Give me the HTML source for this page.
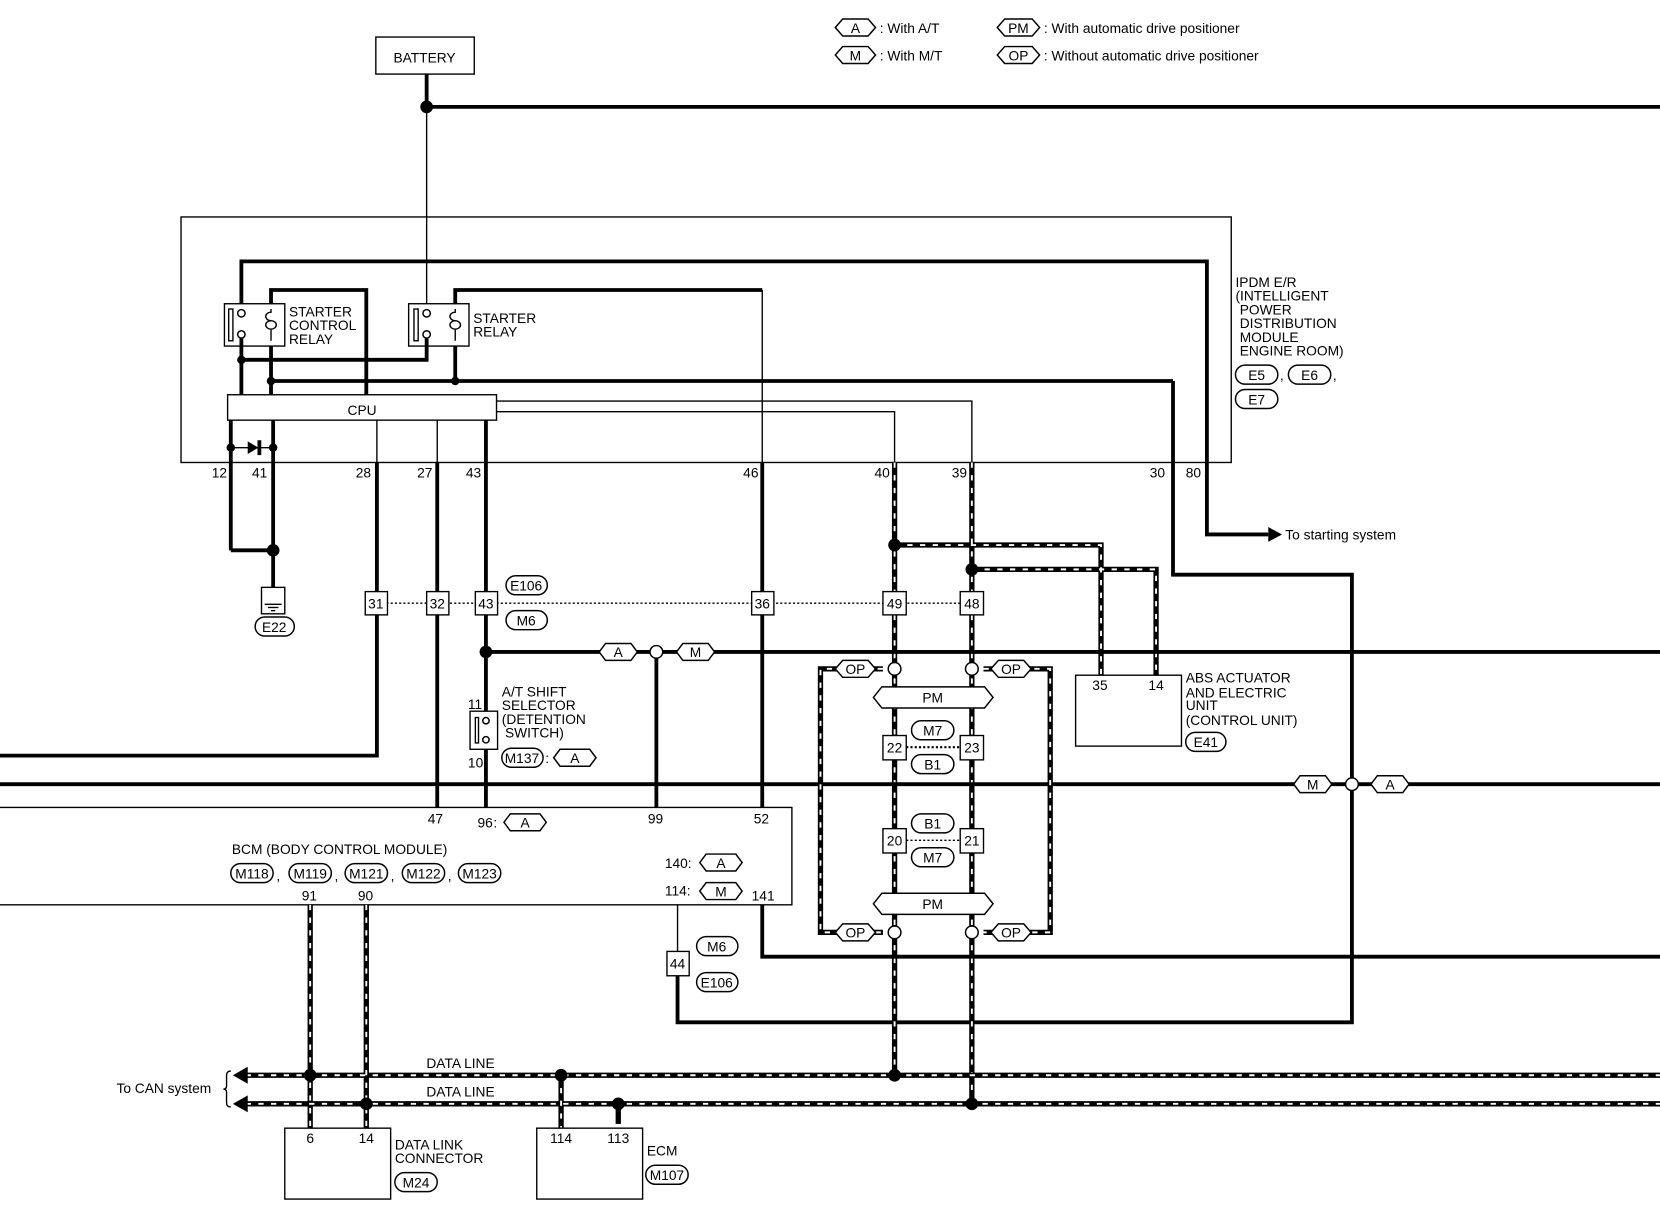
<!DOCTYPE html>
<html><head><meta charset="utf-8"><style>
html,body{margin:0;padding:0;background:#fff;}
svg{display:block;}
text{font-family:"Liberation Sans",sans-serif;font-size:13px;fill:#000;}
.t{stroke:#000;stroke-width:1.3;fill:none;}
.k{stroke:#000;stroke-width:3.6;fill:none;}
.d{stroke:#000;stroke-width:5;fill:none;}
.w{stroke:#fff;stroke-width:1.8;fill:none;stroke-dasharray:5 7;}
.dot{stroke:#000;stroke-width:1.3;fill:none;stroke-dasharray:2 2;}
.box{stroke:#000;stroke-width:1.3;fill:#fff;}
.ov{stroke:#000;stroke-width:1.4;fill:#fff;}
</style></head><body>
<svg width="1660" height="1216" viewBox="0 0 1568 1149" preserveAspectRatio="none" xmlns="http://www.w3.org/2000/svg">
<!-- Legend -->
<polygon class="ov" points="789,26 796,18 820,18 827,26 820,34 796,34"/><text x="808" y="31" text-anchor="middle">A</text>
<text x="831" y="31">: With A/T</text>
<polygon class="ov" points="789,52 796,44 820,44 827,52 820,60 796,60"/><text x="808" y="57" text-anchor="middle">M</text>
<text x="831" y="57">: With M/T</text>
<polygon class="ov" points="942,26 949,18 975,18 982,26 975,34 949,34"/><text x="962" y="31" text-anchor="middle">PM</text>
<text x="986" y="31">: With automatic drive positioner</text>
<polygon class="ov" points="942,52 949,44 975,44 982,52 975,60 949,60"/><text x="962" y="57" text-anchor="middle">OP</text>
<text x="986" y="57">: Without automatic drive positioner</text>

<!-- Battery -->
<rect class="box" x="355" y="35" width="93" height="35"/><text x="401" y="59" text-anchor="middle">BATTERY</text>
<line class="k" x1="403" y1="70" x2="403" y2="101"/>
<line class="k" x1="403" y1="101" x2="1568" y2="101"/>
<circle cx="403" cy="101" r="6"/>
<line class="t" x1="403" y1="101" x2="403" y2="296"/>

<!-- IPDM box -->
<rect class="t" x="171" y="205" width="992" height="232"/>
<polyline class="k" points="228,296 228,247 1140,247 1140,505 1198,505"/>
<polygon points="1198,498 1211,505 1198,512"/>
<text x="1214" y="510">To starting system</text>

<!-- starter control relay -->
<rect class="box" x="212" y="287" width="57" height="40"/>
<rect class="t" x="216" y="292" width="4" height="30"/>
<circle class="ov" cx="228" cy="296" r="3.5"/><circle class="ov" cx="228" cy="316" r="3.5"/>
<path class="t" d="M256,292 v3 a5,4 0 1 0 0,8 a5,4 0 1 0 0,8 v11 M256,303 a5,4 0 1 1 0,8"/>
<text x="273" y="299">STARTER</text><text x="273" y="312">CONTROL</text><text x="273" y="325">RELAY</text>
<polyline class="k" points="256,287 256,274 346,274 346,373"/>
<line class="k" x1="228" y1="320" x2="228" y2="373"/>
<line class="k" x1="256" y1="327" x2="256" y2="373"/>
<!-- starter relay -->
<rect class="box" x="386" y="287" width="57" height="40"/>
<rect class="t" x="391" y="292" width="4" height="30"/>
<circle class="ov" cx="403" cy="296" r="3.5"/><circle class="ov" cx="403" cy="316" r="3.5"/>
<path class="t" d="M430,292 v3 a5,4 0 1 0 0,8 a5,4 0 1 0 0,8 v11 M430,303 a5,4 0 1 1 0,8"/>
<text x="447" y="305">STARTER</text><text x="447" y="318">RELAY</text>
<polyline class="k" points="430,287 430,274 720,274"/>
<line class="t" x1="720" y1="274" x2="720" y2="437"/>
<polyline class="k" points="228,340 403,340 403,320"/>
<circle cx="228" cy="340" r="4"/>
<line class="k" x1="430" y1="327" x2="430" y2="360"/>
<line class="k" x1="256" y1="360" x2="1108" y2="360"/>
<circle cx="256" cy="360" r="4"/><circle cx="430" cy="360" r="4"/>
<polyline class="k" points="1108,360 1108,543 1277,543 1277,966 640,966 640,922"/>
<line class="t" x1="640" y1="855" x2="640" y2="899"/>

<!-- CPU -->
<rect class="box" x="215" y="373" width="254" height="24"/><text x="342" y="392" text-anchor="middle">CPU</text>
<polyline class="t" points="469,379 918,379 918,437"/>
<polyline class="t" points="469,389 845,389 845,437"/>
<line class="k" x1="218" y1="397" x2="218" y2="520"/>
<line class="k" x1="258" y1="397" x2="258" y2="555"/>
<line class="t" x1="218" y1="423" x2="258" y2="423"/>
<polygon points="234,417 234,429 244,423"/><line class="k" x1="245" y1="416" x2="245" y2="430"/>
<circle cx="218" cy="423" r="4"/><circle cx="258" cy="423" r="4"/>
<line class="t" x1="356" y1="397" x2="356" y2="437"/>
<line class="t" x1="413" y1="397" x2="413" y2="437"/>
<line class="k" x1="459" y1="397" x2="459" y2="437"/>
<line class="k" x1="218" y1="520" x2="258" y2="520"/>
<circle cx="258" cy="520" r="6"/>
<!-- pin labels -->
<text x="200" y="451">12</text><text x="238" y="451">41</text><text x="336" y="451">28</text>
<text x="394" y="451">27</text><text x="440" y="451">43</text><text x="702" y="451">46</text>
<text x="826" y="451">40</text><text x="899" y="451">39</text><text x="1086" y="451">30</text><text x="1120" y="451">80</text>
<!-- IPDM labels -->
<text x="1167" y="271">IPDM E/R</text><text x="1167" y="284">(INTELLIGENT</text><text x="1171" y="297">POWER</text>
<text x="1171" y="310">DISTRIBUTION</text><text x="1171" y="323">MODULE</text><text x="1171" y="336">ENGINE ROOM)</text>
<rect class="ov" x="1167" y="345" width="40" height="18" rx="9"/><text x="1187" y="359" text-anchor="middle">E5</text>
<text x="1209" y="359">,</text>
<rect class="ov" x="1217" y="345" width="40" height="18" rx="9"/><text x="1237" y="359" text-anchor="middle">E6</text>
<text x="1259" y="359">,</text>
<rect class="ov" x="1167" y="368" width="40" height="18" rx="9"/><text x="1187" y="382" text-anchor="middle">E7</text>

<!-- ground -->
<rect class="t" x="247" y="555" width="22" height="25"/>
<line class="t" x1="250" y1="571" x2="266" y2="571"/><line class="t" x1="253" y1="574" x2="263" y2="574"/><line class="t" x1="256" y1="577" x2="260" y2="577"/>
<rect class="ov" x="241" y="583" width="37" height="18" rx="9"/><text x="259" y="597" text-anchor="middle">E22</text>

<!-- verticals -->
<polyline class="k" points="356,437 356,714 0,714"/>
<line class="k" x1="413" y1="437" x2="413" y2="763"/>
<line class="k" x1="459" y1="437" x2="459" y2="763"/>
<line class="k" x1="720" y1="437" x2="720" y2="763"/>
<line class="k" x1="620" y1="616" x2="620" y2="763"/>

<!-- dashed data verticals 40/39 -->
<g>
<path class="d" d="M845,437 V1016 M918,437 V1043 M845,515 H1040 V640 M918,538 H1092 V640"/>
<path class="w" d="M845,437 V1016 M918,437 V1043 M845,515 H1040 V640 M918,538 H1092 V640"/>
</g>
<circle cx="845" cy="515" r="6"/><circle cx="918" cy="538" r="6"/>

<!-- connectors row -->
<line class="dot" x1="365" y1="570" x2="908" y2="570"/>
<rect class="box" x="345" y="559" width="21" height="22"/><text x="355" y="575" text-anchor="middle">31</text>
<rect class="box" x="403" y="559" width="21" height="22"/><text x="413" y="575" text-anchor="middle">32</text>
<rect class="box" x="449" y="559" width="21" height="22"/><text x="459" y="575" text-anchor="middle">43</text>
<rect class="box" x="710" y="559" width="21" height="22"/><text x="720" y="575" text-anchor="middle">36</text>
<rect class="box" x="834" y="559" width="22" height="22"/><text x="845" y="575" text-anchor="middle">49</text>
<rect class="box" x="907" y="559" width="22" height="22"/><text x="918" y="575" text-anchor="middle">48</text>
<rect class="ov" x="478" y="544" width="39" height="18" rx="9"/><text x="497" y="558" text-anchor="middle">E106</text>
<rect class="ov" x="478" y="577" width="39" height="18" rx="9"/><text x="497" y="591" text-anchor="middle">M6</text>

<!-- y=616 line -->
<line class="k" x1="459" y1="616" x2="1568" y2="616"/>
<circle cx="459" cy="616" r="6"/>
<polygon class="ov" points="566,616 572,608 596,608 602,616 596,624 572,624"/><text x="584" y="621" text-anchor="middle">A</text>
<circle class="ov" cx="620" cy="616" r="6"/>
<polygon class="ov" points="639,616 645,608 669,608 675,616 669,624 645,624"/><text x="657" y="621" text-anchor="middle">M</text>

<!-- A/T shift selector -->
<rect class="box" x="444" y="672" width="26" height="36"/>
<rect class="t" x="449" y="678" width="3" height="24"/>
<circle class="ov" cx="459" cy="681" r="3"/><circle class="ov" cx="459" cy="699" r="3"/>
<text x="442" y="670" font-size="12">11</text><text x="442" y="725" font-size="12">10</text>
<text x="474" y="658">A/T SHIFT</text><text x="474" y="671">SELECTOR</text><text x="474" y="684">(DETENTION</text><text x="477" y="697">SWITCH)</text>
<rect class="ov" x="474" y="707" width="39" height="18" rx="9"/><text x="493" y="721" text-anchor="middle">M137</text>
<text x="515" y="721">:</text>
<polygon class="ov" points="523,716 529,708 557,708 563,716 557,724 529,724"/><text x="543" y="721" text-anchor="middle">A</text>

<!-- y=741 line -->
<line class="k" x1="0" y1="741" x2="1568" y2="741"/>
<polygon class="ov" points="1222,741 1228,733 1252,733 1258,741 1252,749 1228,749"/><text x="1240" y="746" text-anchor="middle">M</text>
<circle class="ov" cx="1277" cy="741" r="6"/>
<polygon class="ov" points="1295,741 1301,733 1325,733 1331,741 1325,749 1301,749"/><text x="1313" y="746" text-anchor="middle">A</text>

<!-- OP loops -->
<path class="d" d="M834,632 H775 V881 H834 M929,632 H992 V881 H929"/>
<path class="w" d="M834,632 H775 V881 H834 M929,632 H992 V881 H929"/>
<polygon class="ov" points="789,632 796,624 820,624 827,632 820,640 796,640"/><text x="808" y="637" text-anchor="middle">OP</text>
<polygon class="ov" points="936,632 943,624 967,624 974,632 967,640 943,640"/><text x="955" y="637" text-anchor="middle">OP</text>
<polygon class="ov" points="789,881 796,873 820,873 827,881 820,889 796,889"/><text x="808" y="886" text-anchor="middle">OP</text>
<polygon class="ov" points="936,881 943,873 967,873 974,881 967,889 943,889"/><text x="955" y="886" text-anchor="middle">OP</text>
<circle class="ov" cx="845" cy="632" r="6"/><circle class="ov" cx="918" cy="632" r="6"/>
<circle class="ov" cx="845" cy="881" r="6"/><circle class="ov" cx="918" cy="881" r="6"/>
<polygon class="ov" points="825,659 833,649 930,649 938,659 930,669 833,669"/><text x="881" y="664" text-anchor="middle">PM</text>
<polygon class="ov" points="825,854 833,844 930,844 938,854 930,864 833,864"/><text x="881" y="859" text-anchor="middle">PM</text>
<line class="dot" x1="856" y1="706" x2="907" y2="706" style="stroke-width:2"/>
<line class="dot" x1="856" y1="794" x2="907" y2="794"/>
<rect class="box" x="834" y="695" width="22" height="23"/><text x="845" y="711" text-anchor="middle">22</text>
<rect class="box" x="907" y="695" width="22" height="23"/><text x="918" y="711" text-anchor="middle">23</text>
<rect class="box" x="834" y="783" width="22" height="23"/><text x="845" y="799" text-anchor="middle">20</text>
<rect class="box" x="907" y="783" width="22" height="23"/><text x="918" y="799" text-anchor="middle">21</text>
<rect class="ov" x="861" y="681" width="40" height="18" rx="9"/><text x="881" y="695" text-anchor="middle">M7</text>
<rect class="ov" x="861" y="713" width="40" height="18" rx="9"/><text x="881" y="727" text-anchor="middle">B1</text>
<rect class="ov" x="861" y="769" width="40" height="18" rx="9"/><text x="881" y="783" text-anchor="middle">B1</text>
<rect class="ov" x="861" y="801" width="40" height="18" rx="9"/><text x="881" y="815" text-anchor="middle">M7</text>

<!-- ABS -->
<rect class="box" x="1016" y="638" width="100" height="67"/>
<text x="1039" y="652" text-anchor="middle">35</text><text x="1092" y="652" text-anchor="middle">14</text>
<text x="1120" y="645">ABS ACTUATOR</text><text x="1120" y="659">AND ELECTRIC</text><text x="1120" y="671">UNIT</text><text x="1120" y="685">(CONTROL UNIT)</text>
<rect class="ov" x="1120" y="692" width="38" height="18" rx="9"/><text x="1139" y="706" text-anchor="middle">E41</text>

<!-- BCM -->
<polyline class="t" points="0,763 748,763 748,855 0,855"/>
<text x="404" y="778">47</text><text x="451" y="782">96</text><text x="466" y="782">:</text>
<polygon class="ov" points="476,777 482,769 510,769 516,777 510,785 482,785"/><text x="496" y="782" text-anchor="middle">A</text>
<text x="612" y="778">99</text><text x="712" y="778">52</text>
<text x="219" y="807">BCM (BODY CONTROL MODULE)</text>
<rect class="ov" x="218" y="816" width="40" height="18" rx="9"/><text x="238" y="830" text-anchor="middle">M118</text>
<text x="261" y="832">,</text>
<rect class="ov" x="273" y="816" width="40" height="18" rx="9"/><text x="293" y="830" text-anchor="middle">M119</text>
<text x="316" y="832">,</text>
<rect class="ov" x="326" y="816" width="40" height="18" rx="9"/><text x="346" y="830" text-anchor="middle">M121</text>
<text x="369" y="832">,</text>
<rect class="ov" x="380" y="816" width="40" height="18" rx="9"/><text x="400" y="830" text-anchor="middle">M122</text>
<text x="423" y="832">,</text>
<rect class="ov" x="433" y="816" width="40" height="18" rx="9"/><text x="453" y="830" text-anchor="middle">M123</text>
<text x="628" y="820">140:</text>
<polygon class="ov" points="661,815 667,807 695,807 701,815 695,823 667,823"/><text x="681" y="820" text-anchor="middle">A</text>
<text x="628" y="846">114:</text>
<polygon class="ov" points="661,842 667,834 695,834 701,842 695,850 667,850"/><text x="681" y="847" text-anchor="middle">M</text>
<text x="710" y="851">141</text>
<text x="285" y="851">91</text><text x="338" y="851">90</text>
<polyline class="k" points="720,855 720,904 1568,904"/>
<rect class="box" x="630" y="899" width="21" height="23"/><text x="640" y="915" text-anchor="middle">44</text>
<rect class="ov" x="658" y="885" width="39" height="18" rx="9"/><text x="677" y="899" text-anchor="middle">M6</text>
<rect class="ov" x="658" y="919" width="39" height="18" rx="9"/><text x="677" y="933" text-anchor="middle">E106</text>

<!-- data lines -->
<path class="d" d="M232,1016 H1568 M232,1043 H1568 M293,855 V1068 M346,855 V1068 M530,1016 V1066"/>
<path class="w" d="M232,1016 H1568 M232,1043 H1568 M293,855 V1068 M346,855 V1068 M530,1016 V1066"/>
<line class="d" x1="584" y1="1043" x2="584" y2="1062"/>
<polygon points="220,1016 234,1008 234,1024"/><polygon points="220,1043 234,1035 234,1051"/>
<circle cx="293" cy="1016" r="6"/><circle cx="346" cy="1043" r="6"/>
<circle cx="530" cy="1016" r="6"/><circle cx="584" cy="1043" r="6"/>
<circle cx="845" cy="1016" r="6"/><circle cx="918" cy="1043" r="6"/>
<text x="435" y="1009" text-anchor="middle">DATA LINE</text>
<text x="435" y="1036" text-anchor="middle">DATA LINE</text>
<text x="110" y="1033">To CAN system</text>
<path class="t" d="M218,1012 q-4,0 -4,4 v10 q0,3 -3,3 q3,0 3,3 v10 q0,4 4,4"/>
<rect class="box" x="269" y="1066" width="100" height="67"/>
<text x="293" y="1080" text-anchor="middle">6</text><text x="346" y="1080" text-anchor="middle">14</text>
<text x="373" y="1086">DATA LINK</text><text x="373" y="1099">CONNECTOR</text>
<rect class="ov" x="373" y="1108" width="40" height="18" rx="9"/><text x="393" y="1122" text-anchor="middle">M24</text>
<rect class="box" x="507" y="1066" width="100" height="67"/>
<text x="530" y="1080" text-anchor="middle">114</text><text x="584" y="1080" text-anchor="middle">113</text>
<text x="611" y="1092">ECM</text>
<rect class="ov" x="610" y="1101" width="40" height="18" rx="9"/><text x="630" y="1115" text-anchor="middle">M107</text>
</svg>
</body></html>
